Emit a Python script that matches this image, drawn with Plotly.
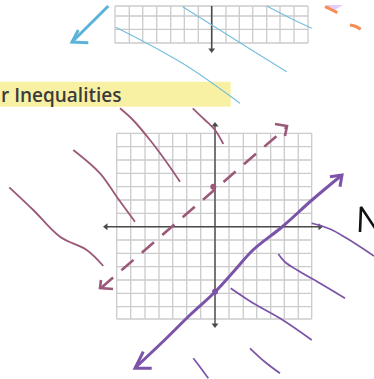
import plotly.graph_objects as go

W, H = 374, 379

# ---- grid positions (pixel coords of the page) ----
low_grid_x = [116.7, 130.7, 145.0, 159.0, 172.7, 186.7, 200.7, 215.0, 229.0, 243.3, 256.7, 270.7, 284.3, 298.3, 311.7]
low_grid_y = [133.3, 146.7, 160.0, 173.3, 186.7, 200.0, 213.3, 226.7, 240.0, 253.3, 266.7, 280.0, 293.3, 306.7, 319.0]
top_grid_x = [115.0, 129.3, 142.7, 156.7, 170.7, 184.3, 198.3, 211.7, 226.0, 239.3, 252.7, 266.7, 280.0, 294.0, 308.0]
top_grid_y = [6.0, 16.0, 29.3, 43.0]

# ---- axes ----
low_xaxis_x = [106.0, 320.0]
low_xaxis_y = [226.7, 226.7]
low_yaxis_x = [215.0, 215.0]
low_yaxis_y = [125.0, 325.0]
top_yaxis_x = [211.7, 211.7]
top_yaxis_y = [6.0, 50.0]
axis_arrow_x = [106.0, 320.0, 215.0, 215.0, 211.7]
axis_arrow_y = [226.7, 226.7, 125.0, 325.0, 50.0]
axis_arrow_sym = ["triangle-left", "triangle-right", "triangle-up", "triangle-down", "triangle-down"]

# ---- blue strokes (top) ----
blue_thin = [
    ([115.7, 150.0, 190.0, 240.0], [27.3, 45.0, 68.0, 103.3]),
    ([182.7, 215.0, 250.0, 286.7], [6.7, 27.0, 49.0, 71.7]),
    ([266.7, 290.0, 311.7], [6.0, 18.0, 28.3]),
]
blue_arrow_x = [108.3, 90.0, 72.0]
blue_arrow_y = [6.0, 24.0, 42.0]
blue_head_x = [78.3, 72.0, 88.3]
blue_head_y = [30.0, 42.0, 42.7]

# ---- orange / lavender scribbles ----
orange_strokes = [
    ([325.0, 331.0, 337.3], [6.7, 9.5, 12.7]),
    ([350.0, 356.0, 360.7], [25.0, 26.5, 29.3]),
]
lav_x = [326.0, 343.0, 333.0, 326.0]
lav_y = [5.0, 5.0, 11.0, 5.0]

# ---- highlighted title ----
title_text = "r Inequalities"
band_x = [0.0, 230.7]
band_y = [81.7, 106.7]

# ---- maroon strokes ----
maroon_curves = [
    ([120.0, 133.0, 150.0, 165.0, 180.0], [108.3, 120.0, 140.0, 160.0, 181.7]),
    ([192.7, 205.0, 215.0, 223.3], [108.3, 120.0, 130.0, 144.0]),
    ([73.3, 100.0, 116.7, 135.0], [150.0, 173.3, 196.7, 221.7]),
    ([9.3, 33.3, 60.0, 86.7, 103.3], [187.3, 210.0, 236.7, 250.0, 266.0]),
]
maroon_dash_x = [101.0, 287.0]
maroon_dash_y = [288.0, 127.0]
maroon_heads = [
    ([101.0, 100.0, 113.0], [280.0, 288.0, 289.0]),
    ([275.0, 287.0, 285.0], [124.0, 126.0, 136.0]),
]
maroon_dot = (213.3, 186.7)

# ---- purple strokes ----
purple_main_x = [135.0, 166.7, 190.0, 215.0, 235.0, 253.0, 282.0, 312.0, 342.0]
purple_main_y = [368.0, 338.0, 315.0, 292.0, 270.0, 250.0, 227.0, 200.0, 175.0]
purple_heads = [
    ([143.3, 135.0, 151.7], [351.7, 368.3, 368.3]),
    ([330.0, 342.0, 340.0], [176.7, 175.0, 186.7]),
]
purple_dot = (215.0, 291.7)
purple_curves = [
    ([311.7, 330.0, 346.7, 374.0], [223.3, 229.0, 238.3, 256.0]),
    ([278.3, 285.0, 297.0, 320.0, 345.0], [254.0, 262.0, 270.0, 283.3, 298.3]),
    ([230.7, 253.3, 280.0, 311.7], [288.3, 303.3, 318.3, 340.0]),
    ([250.0, 265.0, 280.0], [348.3, 362.0, 373.3]),
    ([193.3, 200.0, 208.3], [358.3, 367.0, 378.3]),
]

# ---- black "N" ----
n_x = [360.0, 361.0, 375.0]
n_y = [232.0, 207.0, 228.0]

GRID = "#cbcbcb"
AXIS = "#4a4a4a"
BLUE = "#74bedc"
BLUE2 = "#5cb3d8"
MAROON = "#9b5878"
PURPLE = "#7b53a8"

fig = go.Figure()


def seg_trace(xs, ys, color, width, dash=None, shape="linear", opacity=1.0):
    fig.add_trace(go.Scatter(x=xs, y=ys, mode="lines", hoverinfo="skip",
                             line=dict(color=color, width=width, dash=dash, shape=shape),
                             opacity=opacity, showlegend=False))


# grids
def grid(xs, ys):
    gx, gy = [], []
    for x in xs:
        gx += [x, x, None]
        gy += [ys[0], ys[-1], None]
    for y in ys:
        gx += [xs[0], xs[-1], None]
        gy += [y, y, None]
    seg_trace(gx, gy, GRID, 1.3)


grid(low_grid_x, low_grid_y)
grid(top_grid_x, top_grid_y)

# axes
seg_trace(low_xaxis_x, low_xaxis_y, AXIS, 1.4)
seg_trace(low_yaxis_x, low_yaxis_y, AXIS, 1.4)
seg_trace(top_yaxis_x, top_yaxis_y, AXIS, 1.6)
fig.add_trace(go.Scatter(x=axis_arrow_x, y=axis_arrow_y, mode="markers", hoverinfo="skip",
                         marker=dict(symbol=axis_arrow_sym, size=6, color=AXIS), showlegend=False))

# blue
for xs, ys in blue_thin:
    seg_trace(xs, ys, BLUE, 1.1, shape="spline")
seg_trace(blue_arrow_x, blue_arrow_y, BLUE2, 3)
seg_trace(blue_head_x, blue_head_y, BLUE2, 3)

# orange / lavender
fig.add_trace(go.Scatter(x=lav_x, y=lav_y, mode="lines", fill="toself", fillcolor="#e4cbf8",
                         line=dict(width=0, color="#e4cbf8"), hoverinfo="skip", showlegend=False))
for xs, ys in orange_strokes:
    seg_trace(xs, ys, "#f38d52", 3, shape="spline")

# maroon
for xs, ys in maroon_curves:
    seg_trace(xs, ys, MAROON, 1.8, shape="spline")
seg_trace(maroon_dash_x, maroon_dash_y, MAROON, 2.6, dash="16px,11px")
for xs, ys in maroon_heads:
    seg_trace(xs, ys, MAROON, 2.6)
fig.add_trace(go.Scatter(x=[maroon_dot[0]], y=[maroon_dot[1]], mode="markers", hoverinfo="skip",
                         marker=dict(size=6, color=MAROON), showlegend=False))

# purple
seg_trace(purple_main_x, purple_main_y, PURPLE, 3, shape="spline")
for xs, ys in purple_heads:
    seg_trace(xs, ys, PURPLE, 3)
fig.add_trace(go.Scatter(x=[purple_dot[0]], y=[purple_dot[1]], mode="markers", hoverinfo="skip",
                         marker=dict(size=6, color=PURPLE), showlegend=False))
for xs, ys in purple_curves:
    seg_trace(xs, ys, PURPLE, 1.7, shape="spline")

# N
seg_trace(n_x, n_y, "#111111", 2.6)

fig.add_shape(type="rect", x0=band_x[0] - 2, x1=band_x[1], y0=band_y[0], y1=band_y[1],
              fillcolor="#f8f1a3", line=dict(width=0), layer="below")
fig.add_annotation(x=0, y=(band_y[0] + band_y[1]) / 2 + 0.5, xref="x", yref="y", text=title_text,
                   showarrow=False, xanchor="left", yanchor="middle", xshift=-1,
                   font=dict(family="Open Sans", size=19, color="#3c3c3c", weight=600))

fig.update_layout(width=W, height=H, margin=dict(l=0, r=0, t=0, b=0),
                  paper_bgcolor="white", plot_bgcolor="white",
                  xaxis=dict(range=[0, W], visible=False, fixedrange=True),
                  yaxis=dict(range=[H, 0], visible=False, fixedrange=True),
                  showlegend=False)

fig.write_html("out.html", config={"displayModeBar": False})

# remove the browser's default page margin so the figure sits at the window origin
with open("out.html", "r", encoding="utf-8") as f:
    html = f.read()
html = html.replace("<head>", "<head><style>html,body{margin:0;padding:0;overflow:hidden;}</style>", 1)
with open("out.html", "w", encoding="utf-8") as f:
    f.write(html)
